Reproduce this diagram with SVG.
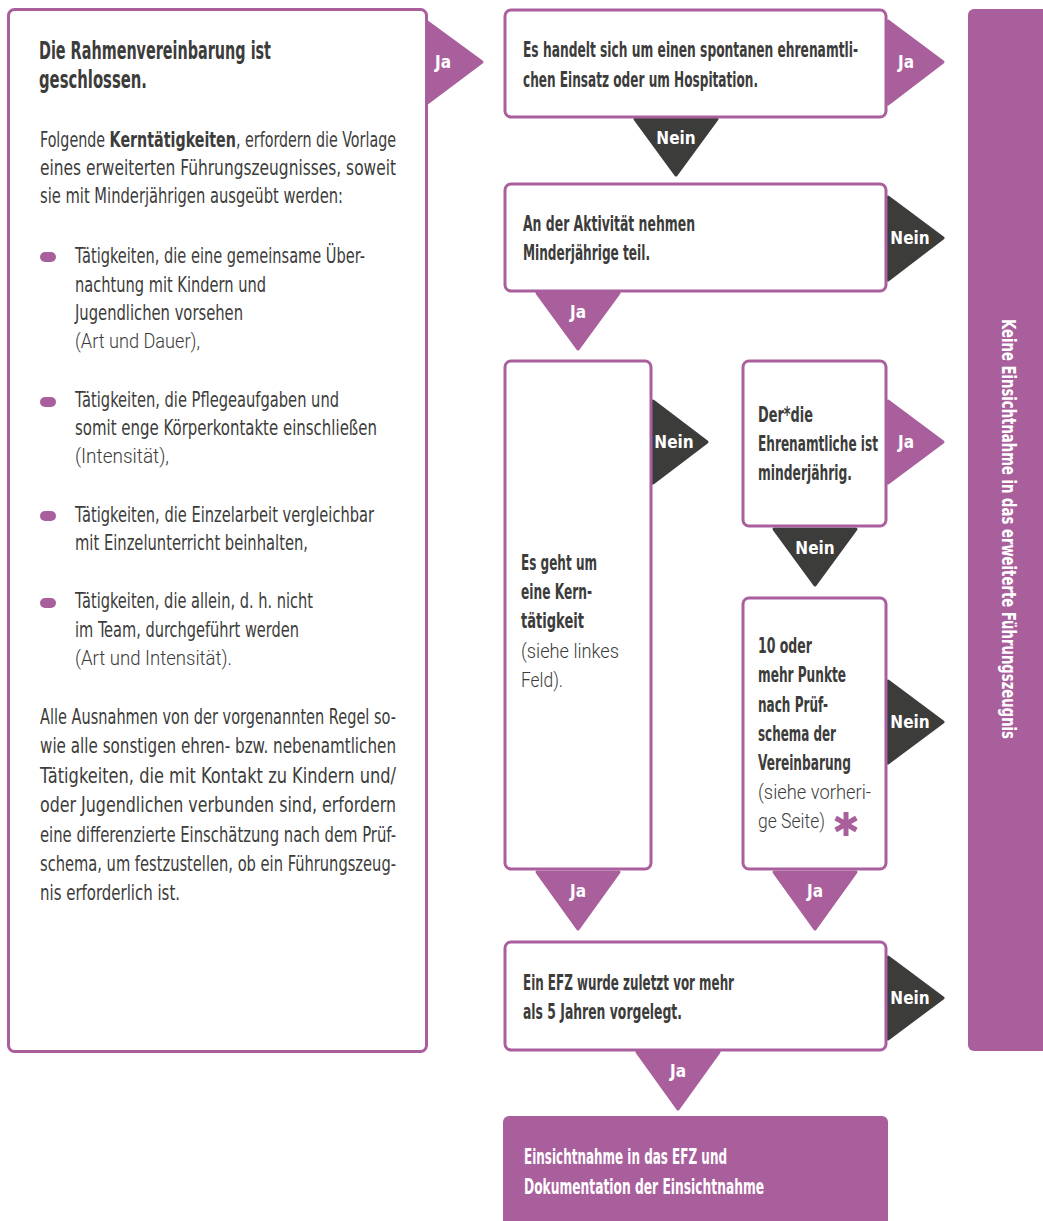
<svg xmlns="http://www.w3.org/2000/svg" width="1043" height="1221" viewBox="0 0 1043 1221">
  <style>
    .bg { fill: #ffffff; }
    .box { fill: #ffffff; stroke: #AA5F9D; stroke-width: 3; }
    .fill { fill: #AA5F9D; }
    .ja { fill: #AA5F9D; stroke: #AA5F9D; stroke-width: 3; stroke-linejoin: round; }
    .nein { fill: #3C3C3B; stroke: #3C3C3B; stroke-width: 3; stroke-linejoin: round; }
    text { font-family: "Liberation Sans Narrow", "DejaVu Sans Condensed", "Roboto Condensed", "Liberation Sans", sans-serif; fill: #3C3C3B; }
    .t { font-size: 21px; }
    .b { font-size: 21px; font-weight: bold; }
    .h { font-size: 25px; font-weight: bold; }
    .l { font-family: "Roboto", "Open Sans", "Lato", sans-serif; font-weight: 300; font-size: 21px; }
    .lab { font-size: 17px; font-weight: bold; fill: #ffffff; text-anchor: middle; }
    .w { fill: #ffffff; }
    .pill { fill: #AA5F9D; }
    .star { stroke: #AA5F9D; stroke-width: 5; stroke-linecap: butt; }
  </style>

  <rect class="bg" x="0" y="0" width="1043" height="1221"/>

  <!-- connectors: yes / no arrowheads -->
  <g id="connectors">
    <g id="c-rahmen-ja"><polygon class="ja" points="426,21 482,62 426,104"/><text class="lab" x="443" y="68">Ja</text></g>
    <g id="c-spontan-ja"><polygon class="ja" points="888,21 943,62 888,104"/><text class="lab" x="906" y="68">Ja</text></g>
    <g id="c-spontan-nein"><polygon class="nein" points="635,119 717,119 676,175"/><text class="lab" x="676" y="144">Nein</text></g>
    <g id="c-minder-nein"><polygon class="nein" points="888,197 943,238 888,280"/><text class="lab" x="910" y="244">Nein</text></g>
    <g id="c-minder-ja"><polygon class="ja" points="537,293 619,293 578,349"/><text class="lab" x="578" y="318">Ja</text></g>
    <g id="c-kern-nein"><polygon class="nein" points="653,401 707,442 653,483"/><text class="lab" x="674" y="448">Nein</text></g>
    <g id="c-ehren-ja"><polygon class="ja" points="888,401 943,442 888,483"/><text class="lab" x="906" y="448">Ja</text></g>
    <g id="c-ehren-nein"><polygon class="nein" points="774,529 856,529 815,585"/><text class="lab" x="815" y="554">Nein</text></g>
    <g id="c-punkte-nein"><polygon class="nein" points="888,681 943,722 888,763"/><text class="lab" x="910" y="728">Nein</text></g>
    <g id="c-kern-ja"><polygon class="ja" points="537,872 619,872 578,929"/><text class="lab" x="578" y="897">Ja</text></g>
    <g id="c-punkte-ja"><polygon class="ja" points="774,872 856,872 815,929"/><text class="lab" x="815" y="897">Ja</text></g>
    <g id="c-efz-nein"><polygon class="nein" points="888,957 943,998 888,1039"/><text class="lab" x="910" y="1004">Nein</text></g>
    <g id="c-efz-ja"><polygon class="ja" points="637,1052 719,1052 678,1109"/><text class="lab" x="678" y="1077">Ja</text></g>
  </g>

  <!-- left info panel -->
  <g id="rahmenvereinbarung">
    <rect class="box" x="8.5" y="9.5" width="418" height="1042" rx="6"/>
    <text class="h" x="39" y="59" textLength="232" lengthAdjust="spacingAndGlyphs">Die Rahmenvereinbarung ist</text>
    <text class="h" x="39" y="88" textLength="108" lengthAdjust="spacingAndGlyphs">geschlossen.</text>

    <text class="t" x="40" y="147" textLength="356" lengthAdjust="spacingAndGlyphs">Folgende <tspan font-weight="bold">Kerntätigkeiten</tspan>, erfordern die Vorlage</text>
    <text class="t" x="40" y="175" textLength="356" lengthAdjust="spacingAndGlyphs">eines erweiterten Führungszeugnisses, soweit</text>
    <text class="t" x="40" y="203" textLength="303" lengthAdjust="spacingAndGlyphs">sie mit Minderjährigen ausgeübt werden:</text>

    <rect class="pill" x="40" y="252" width="16" height="10" rx="5"/>
    <text class="t" x="75" y="263" textLength="290" lengthAdjust="spacingAndGlyphs">Tätigkeiten, die eine gemeinsame Über-</text>
    <text class="t" x="75" y="292" textLength="191" lengthAdjust="spacingAndGlyphs">nachtung mit Kindern und</text>
    <text class="t" x="75" y="320" textLength="168" lengthAdjust="spacingAndGlyphs">Jugendlichen vorsehen</text>
    <text class="l" x="75" y="348" textLength="125" lengthAdjust="spacingAndGlyphs">(Art und Dauer),</text>

    <rect class="pill" x="40" y="397" width="16" height="10" rx="5"/>
    <text class="t" x="75" y="407" textLength="264" lengthAdjust="spacingAndGlyphs">Tätigkeiten, die Pflegeaufgaben und</text>
    <text class="t" x="75" y="435" textLength="302" lengthAdjust="spacingAndGlyphs">somit enge Körperkontakte einschließen</text>
    <text class="l" x="75" y="463" textLength="94" lengthAdjust="spacingAndGlyphs">(Intensität),</text>

    <rect class="pill" x="40" y="511" width="16" height="10" rx="5"/>
    <text class="t" x="75" y="522" textLength="299" lengthAdjust="spacingAndGlyphs">Tätigkeiten, die Einzelarbeit vergleichbar</text>
    <text class="t" x="75" y="550" textLength="233" lengthAdjust="spacingAndGlyphs">mit Einzelunterricht beinhalten,</text>

    <rect class="pill" x="40" y="598" width="16" height="10" rx="5"/>
    <text class="t" x="75" y="608" textLength="238" lengthAdjust="spacingAndGlyphs">Tätigkeiten, die allein, d. h. nicht</text>
    <text class="t" x="75" y="637" textLength="224" lengthAdjust="spacingAndGlyphs">im Team, durchgeführt werden</text>
    <text class="l" x="75" y="665" textLength="157" lengthAdjust="spacingAndGlyphs">(Art und Intensität).</text>

    <text class="t" x="40" y="724" textLength="356" lengthAdjust="spacingAndGlyphs">Alle Ausnahmen von der vorgenannten Regel so-</text>
    <text class="t" x="40" y="753" textLength="356" lengthAdjust="spacingAndGlyphs">wie alle sonstigen ehren- bzw. nebenamtlichen</text>
    <text class="t" x="40" y="783" textLength="356" lengthAdjust="spacingAndGlyphs">Tätigkeiten, die mit Kontakt zu Kindern und/</text>
    <text class="t" x="40" y="812" textLength="356" lengthAdjust="spacingAndGlyphs">oder Jugendlichen verbunden sind, erfordern</text>
    <text class="t" x="40" y="842" textLength="356" lengthAdjust="spacingAndGlyphs">eine differenzierte Einschätzung nach dem Prüf-</text>
    <text class="t" x="40" y="871" textLength="356" lengthAdjust="spacingAndGlyphs">schema, um festzustellen, ob ein Führungszeug-</text>
    <text class="t" x="40" y="900" textLength="140" lengthAdjust="spacingAndGlyphs">nis erforderlich ist.</text>
  </g>

  <!-- decision boxes -->
  <g id="spontan">
    <rect class="box" x="505" y="10" width="381" height="107" rx="6"/>
    <text class="b" x="523" y="57" textLength="335" lengthAdjust="spacingAndGlyphs">Es handelt sich um einen spontanen ehrenamtli-</text>
    <text class="b" x="523" y="87" textLength="235" lengthAdjust="spacingAndGlyphs">chen Einsatz oder um Hospitation.</text>
  </g>

  <g id="minderjaehrige">
    <rect class="box" x="505" y="184" width="381" height="107" rx="6"/>
    <text class="b" x="523" y="231" textLength="172" lengthAdjust="spacingAndGlyphs">An der Aktivität nehmen</text>
    <text class="b" x="523" y="260" textLength="127" lengthAdjust="spacingAndGlyphs">Minderjährige teil.</text>
  </g>

  <g id="kerntaetigkeit">
    <rect class="box" x="505" y="361" width="146" height="508" rx="6"/>
    <text class="b" x="521" y="570" textLength="76" lengthAdjust="spacingAndGlyphs">Es geht um</text>
    <text class="b" x="521" y="599" textLength="71" lengthAdjust="spacingAndGlyphs">eine Kern-</text>
    <text class="b" x="521" y="628" textLength="63" lengthAdjust="spacingAndGlyphs">tätigkeit</text>
    <text class="l" x="521" y="658" textLength="98" lengthAdjust="spacingAndGlyphs">(siehe linkes</text>
    <text class="l" x="521" y="687" textLength="42" lengthAdjust="spacingAndGlyphs">Feld).</text>
  </g>

  <g id="ehrenamtliche">
    <rect class="box" x="743" y="361" width="143" height="165" rx="6"/>
    <text class="b" x="758" y="422" textLength="55" lengthAdjust="spacingAndGlyphs">Der*die</text>
    <text class="b" x="758" y="451" textLength="120" lengthAdjust="spacingAndGlyphs">Ehrenamtliche ist</text>
    <text class="b" x="758" y="480" textLength="94" lengthAdjust="spacingAndGlyphs">minderjährig.</text>
  </g>

  <g id="punkte">
    <rect class="box" x="743" y="598" width="143" height="271" rx="6"/>
    <text class="b" x="758" y="653" textLength="54" lengthAdjust="spacingAndGlyphs">10 oder</text>
    <text class="b" x="758" y="682" textLength="88" lengthAdjust="spacingAndGlyphs">mehr Punkte</text>
    <text class="b" x="758" y="712" textLength="70" lengthAdjust="spacingAndGlyphs">nach Prüf-</text>
    <text class="b" x="758" y="741" textLength="78" lengthAdjust="spacingAndGlyphs">schema der</text>
    <text class="b" x="758" y="770" textLength="93" lengthAdjust="spacingAndGlyphs">Vereinbarung</text>
    <text class="l" x="758" y="799" textLength="113" lengthAdjust="spacingAndGlyphs">(siehe vorheri-</text>
    <text class="l" x="758" y="828" textLength="67" lengthAdjust="spacingAndGlyphs">ge Seite)</text>
    <!-- footnote star -->
    <g class="star">
      <line x1="846" y1="812" x2="846" y2="836"/>
      <line x1="835.6" y1="818" x2="856.4" y2="830"/>
      <line x1="835.6" y1="830" x2="856.4" y2="818"/>
    </g>
  </g>

  <g id="efz-alter">
    <rect class="box" x="505" y="942" width="381" height="108" rx="6"/>
    <text class="b" x="523" y="990" textLength="211" lengthAdjust="spacingAndGlyphs">Ein EFZ wurde zuletzt vor mehr</text>
    <text class="b" x="523" y="1019" textLength="159" lengthAdjust="spacingAndGlyphs">als 5 Jahren vorgelegt.</text>
  </g>

  <!-- outcomes -->
  <g id="einsichtnahme">
    <rect class="fill" x="503" y="1116" width="385" height="130" rx="6"/>
    <text class="b w" x="524" y="1164" textLength="203" lengthAdjust="spacingAndGlyphs">Einsichtnahme in das EFZ und</text>
    <text class="b w" x="524" y="1194" textLength="240" lengthAdjust="spacingAndGlyphs">Dokumentation der Einsichtnahme</text>
  </g>

  <g id="keine-einsichtnahme">
    <rect class="fill" x="968" y="9" width="100" height="1042" rx="6"/>
    <g transform="translate(1009,529) rotate(90)">
      <text class="w" x="0" y="7" font-size="20" font-weight="bold" text-anchor="middle" textLength="420" lengthAdjust="spacingAndGlyphs">Keine Einsichtnahme in das erweiterte Führungszeugnis</text>
    </g>
  </g>
</svg>
